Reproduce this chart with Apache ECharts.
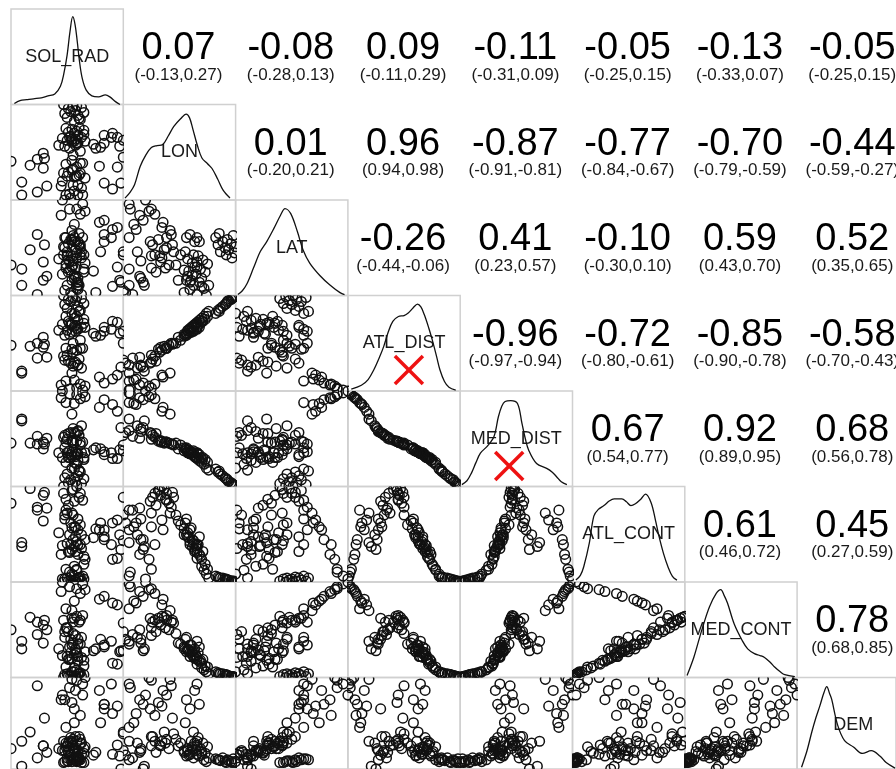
<!DOCTYPE html>
<html>
<head>
<meta charset="utf-8">
<script src="https://cdn.jsdelivr.net/npm/echarts@6/dist/echarts.min.js"></script>
<style>
  html, body { margin: 0; padding: 0; background: #ffffff; }
  #chart { width: 896px; height: 769px; }
</style>
</head>
<body>
<div id="chart"></div>
<script>
// Variable names, in panel order
const varNames = ['SOL_RAD', 'LON', 'LAT', 'ATL_DIST', 'MED_DIST', 'ATL_CONT', 'MED_CONT', 'DEM'];

// Observations (scaled units, one value per site)
const SOL_RAD = [55,60,49,58,47,63,52,56,50,61,54,57,46,59, 51,62,44,80,57,87,48,76,91,53,45,60,55,64, 52,58,47,24,61,54,32,11,11,49,56,94, 59,46,53,29,18,62,2,50,30,57,24,48,96,55, 54,29,60,51,47,42,71,58,53,64,49,56,45,61,91,52,58,63,55,50,57,63,53,48,59, 80,77,86,80,96,73,93,87, 55,53,57,51,56,60,54,58];
const LON      = [82,84,86,88,90,91,92,93,95,96,97,98,99,85, 9,8,17,20,27,14,8,37,36,43,22,30,12,25, 5,8,3,11,15,18,17,21,8,27,27,20, 28,30,33,35,38,40,42,31,45,36,44,39,46,26, 48,50,52,55,57,58,59,60,61,62,63,64,65,66,66,67,68,69,70,71,72,73,74,75,76, 68,56,66,60,63,55,57,70, 62,64,60,66,58,40,34,18];
const LAT      = [62,55,48,58,52,45,60,50,56,42,64,47,53,66, 90,95,84,79,90,70,62,77,72,69,99,85,75,88, 8,15,10,6,48,39,24,15,31,44,32,18, 55,45,60,38,50,62,35,28,55,42,65,32,48,58, 35,20,45,30,62,41,29,11,20,37,15,58,26,6,33,44,18,31,22,40,12,28,5,36,15, 58,48,62,65,45,8,20,14, 25,33,18,38,24,52,44,22];
const ATL_DIST = [80,83,85,87,89,90,92,93,94,95,96,97,98,82, 4,3,8,10,5,14,12,16,18,20,2,9,13,7, 30,28,33,35,25,27,36,22,20,38,31,26, 34,37,44,46,47,45,48,32,49,43,50,45,50,30, 50,56,53,59,58,63,60,64,61,66,63,68,69,66,71,68,73,70,75,72,77,74,80,77,82, 66,58,64,62,62,57,60,72, 67,69,65,70,62,45,41,28];
const MED_DIST = [18,15,13,11,9,8,7,5,4,3,2,1,0,16, 96,97,92,90,95,85,87,82,78,75,99,91,86,93, 56,58,53,52,63,60,50,68,70,49,55,61, 53,51,47,46,45,46,45,55,44,47,44,46,43,56, 45,39,43,37,40,35,38,34,36,35,35,31,30,35,29,33,27,30,25,30,23,28,19,25,17, 33,39,35,36,37,40,38,29, 33,31,34,30,36,46,48,57];
const ATL_CONT = [8,7,6,6,5,5,4,4,3,3,3,2,2,6, 12,8,30,45,15,62,75,55,65,72,5,40,58,25, 62,55,70,75,50,45,77,38,42,72,58,35, 88,92,95,90,97,85,82,80,93,99,78,86,88,84, 70,64,60,50,66,52,47,40,57,45,41,33,39,36,26,40,30,28,18,33,14,20,10,15,6, 48,62,40,55,44,56,50,25, 38,35,43,32,48,92,96,66];
const MED_CONT = [6,5,4,4,3,3,2,2,1,1,1,0,0,4, 95,98,90,85,93,78,72,82,76,70,100,88,80,92, 40,35,48,45,42,36,50,30,38,52,44,28, 58,60,62,55,63,65,50,48,60,64,58,52,57,62, 46,36,35,32,42,30,28,22,34,27,22,30,23,21,14,26,17,18,10,19,8,12,6,11,4, 32,40,38,34,28,30,27,15, 24,20,26,19,29,60,58,40];
const DEM      = [11,10,9,12,8,7,10,9,8,7,11,8,7,10, 88,92,75,70,96,60,45,85,68,97,80,58,50,99, 15,10,20,12,28,22,18,3,30,25,35,0, 35,30,72,25,40,80,22,18,55,30,90,28,38,65, 32,25,28,20,75,22,15,18,30,24,12,85,20,16,26,34,14,22,19,28,10,17,8,24,12, 70,50,92,65,40,18,14,16, 22,28,16,30,20,32,26,20];

// Kernel density curves for the diagonal: [position in range, scaled density]
const densSOL = [[0.03,0.01],[0.08,0.04],[0.14,0.05],[0.2,0.06],[0.27,0.07],[0.33,0.09],[0.39,0.11],[0.44,0.19],[0.47,0.32],[0.5,0.52],[0.525,0.76],[0.55,0.92],[0.57,0.84],[0.59,0.66],[0.61,0.45],[0.635,0.27],[0.67,0.15],[0.72,0.09],[0.78,0.08],[0.84,0.1],[0.88,0.08],[0.93,0.03],[0.97,0.0]];
const densLON = [[0.015,0.02],[0.06,0.08],[0.1,0.16],[0.15,0.35],[0.2,0.47],[0.25,0.55],[0.3,0.57],[0.35,0.58],[0.4,0.67],[0.45,0.77],[0.51,0.85],[0.56,0.9],[0.59,0.86],[0.62,0.74],[0.66,0.57],[0.7,0.44],[0.75,0.38],[0.79,0.33],[0.84,0.22],[0.89,0.1],[0.95,0.02]];
const densLAT = [[0.02,0.01],[0.06,0.05],[0.1,0.12],[0.16,0.29],[0.22,0.46],[0.28,0.57],[0.34,0.7],[0.4,0.84],[0.44,0.91],[0.49,0.86],[0.55,0.67],[0.6,0.48],[0.66,0.34],[0.75,0.21],[0.84,0.11],[0.93,0.03],[0.97,0.01]];
const densATL = [[0.03,0.02],[0.12,0.06],[0.18,0.12],[0.23,0.22],[0.28,0.35],[0.32,0.47],[0.36,0.62],[0.4,0.73],[0.45,0.78],[0.5,0.79],[0.54,0.82],[0.58,0.87],[0.62,0.91],[0.65,0.88],[0.68,0.8],[0.72,0.66],[0.75,0.54],[0.79,0.36],[0.82,0.22],[0.86,0.1],[0.9,0.04],[0.96,0.01]];
const densMED = [[0.015,0.02],[0.06,0.06],[0.1,0.14],[0.14,0.25],[0.18,0.35],[0.24,0.42],[0.3,0.52],[0.34,0.73],[0.37,0.84],[0.4,0.89],[0.45,0.9],[0.51,0.87],[0.55,0.66],[0.58,0.5],[0.61,0.38],[0.68,0.24],[0.77,0.19],[0.82,0.15],[0.86,0.1],[0.9,0.05],[0.95,0.02]];
const densACO = [[0.03,0.02],[0.07,0.07],[0.1,0.16],[0.15,0.41],[0.19,0.69],[0.23,0.76],[0.28,0.8],[0.33,0.85],[0.37,0.87],[0.44,0.87],[0.48,0.84],[0.52,0.8],[0.56,0.82],[0.61,0.87],[0.65,0.92],[0.7,0.83],[0.74,0.64],[0.77,0.48],[0.81,0.3],[0.85,0.16],[0.89,0.06],[0.93,0.02]];
const densMCO = [[0.02,0.02],[0.08,0.21],[0.12,0.37],[0.16,0.53],[0.22,0.74],[0.28,0.88],[0.32,0.92],[0.35,0.86],[0.38,0.78],[0.44,0.56],[0.51,0.39],[0.56,0.3],[0.62,0.25],[0.67,0.23],[0.71,0.21],[0.76,0.16],[0.8,0.11],[0.85,0.06],[0.89,0.03],[0.98,0.01]];
const densDEM = [[0.045,0.02],[0.1,0.2],[0.15,0.41],[0.19,0.56],[0.23,0.69],[0.27,0.83],[0.3,0.9],[0.33,0.82],[0.35,0.76],[0.41,0.48],[0.48,0.31],[0.57,0.24],[0.66,0.17],[0.75,0.2],[0.84,0.14],[0.9,0.07],[0.99,0.01]];

// Pearson r with 95% interval, upper triangle read row by row
const corrR  = [0.07,-0.08,0.09,-0.11,-0.05,-0.13,-0.05, 0.01,0.96,-0.87,-0.77,-0.70,-0.44, -0.26,0.41,-0.10,0.59,0.52, -0.96,-0.72,-0.85,-0.58, 0.67,0.92,0.68, 0.61,0.45, 0.78];
const corrLo = [-0.13,-0.28,-0.11,-0.31,-0.25,-0.33,-0.25, -0.20,0.94,-0.91,-0.84,-0.79,-0.59, -0.44,0.23,-0.30,0.43,0.35, -0.97,-0.80,-0.90,-0.70, 0.54,0.89,0.56, 0.46,0.27, 0.68];
const corrHi = [0.27,0.13,0.29,0.09,0.15,0.07,0.15, 0.21,0.98,-0.81,-0.67,-0.59,-0.27, -0.06,0.57,0.10,0.70,0.65, -0.94,-0.61,-0.78,-0.43, 0.77,0.95,0.78, 0.72,0.59, 0.85];

// Variables flagged with a red cross on the diagonal
const crossed = ['ATL_DIST', 'MED_DIST'];

// ---- layout of the panel matrix ----
const LEFT0 = 11, TOP0 = 9, CW = 112.3, CH = 95.5;
const FONT = '"Liberation Sans", Arial, Helvetica, sans-serif';

const vars = [SOL_RAD, LON, LAT, ATL_DIST, MED_DIST, ATL_CONT, MED_CONT, DEM];
const dens = [densSOL, densLON, densLAT, densATL, densMED, densACO, densMCO, densDEM];
const N = varNames.length;

const grids = [], xAxes = [], yAxes = [], series = [], graphics = [];

function circleItem(params, api) {
  const p = api.coord([api.value(0), api.value(1)]);
  return {
    type: 'circle',
    shape: { cx: p[0], cy: p[1], r: 4.8 },
    style: { fill: 'none', stroke: '#111111', lineWidth: 1.5 }
  };
}

let g = 0;
for (let i = 0; i < N; i++) {
  for (let j = 0; j <= i; j++) {
    grids.push({
      left: LEFT0 + j * CW, top: TOP0 + i * CH, width: CW, height: CH,
      show: true, borderColor: '#d0d0d0', borderWidth: 1.5, backgroundColor: 'transparent'
    });
    if (i === j) {
      xAxes.push({ gridIndex: g, type: 'value', min: 0, max: 1, show: false });
      yAxes.push({ gridIndex: g, type: 'value', min: 0, max: 1, show: false });
      series.push({
        type: 'line', xAxisIndex: g, yAxisIndex: g, data: dens[i],
        smooth: 0.35, symbol: 'none', silent: true,
        lineStyle: { color: '#111111', width: 1.3 }
      });
    } else {
      xAxes.push({ gridIndex: g, type: 'value', min: 'dataMin', max: 'dataMax', show: false });
      yAxes.push({ gridIndex: g, type: 'value', min: 'dataMin', max: 'dataMax', show: false });
      series.push({
        type: 'custom', coordinateSystem: 'cartesian2d', xAxisIndex: g, yAxisIndex: g,
        clip: true, silent: true,
        data: vars[j].map((v, n) => [v, vars[i][n]]),
        encode: { x: 0, y: 1 },
        renderItem: circleItem
      });
    }
    g++;
  }
}

// variable names on the diagonal
for (let i = 0; i < N; i++) {
  graphics.push({
    type: 'text', silent: true,
    x: LEFT0 + i * CW + CW / 2, y: TOP0 + i * CH + CH / 2,
    style: {
      text: varNames[i], fill: '#1a1a1a', fontSize: 18, fontFamily: FONT,
      textAlign: 'center', textVerticalAlign: 'middle', verticalAlign: 'middle'
    }
  });
}

// red crosses on flagged diagonal panels
const crossOffset = { ATL_DIST: [61, 74.5], MED_DIST: [49, 75] };
crossed.forEach(name => {
  const k = varNames.indexOf(name);
  const cx = LEFT0 + k * CW + crossOffset[name][0];
  const cy = TOP0 + k * CH + crossOffset[name][1];
  const h = 14;
  graphics.push({
    type: 'group', silent: true,
    children: [
      { type: 'line', shape: { x1: cx - h, y1: cy - h, x2: cx + h, y2: cy + h }, style: { stroke: '#ee1111', lineWidth: 3.5 } },
      { type: 'line', shape: { x1: cx - h, y1: cy + h, x2: cx + h, y2: cy - h }, style: { stroke: '#ee1111', lineWidth: 3.5 } }
    ]
  });
});

// correlation coefficients in the upper triangle
let k = 0;
for (let i = 0; i < N; i++) {
  for (let j = i + 1; j < N; j++) {
    const cx = LEFT0 + j * CW + CW / 2 - 1;
    const top = TOP0 + i * CH;
    graphics.push({
      type: 'text', silent: true, x: cx, y: top + 40,
      style: {
        text: corrR[k].toFixed(2), fill: '#000000', fontSize: 38, fontFamily: FONT,
        textAlign: 'center', textVerticalAlign: 'middle', verticalAlign: 'middle'
      }
    });
    graphics.push({
      type: 'text', silent: true, x: cx, y: top + 66,
      style: {
        text: '(' + corrLo[k].toFixed(2) + ',' + corrHi[k].toFixed(2) + ')',
        fill: '#1a1a1a', fontSize: 17, fontFamily: FONT,
        textAlign: 'center', textVerticalAlign: 'middle', verticalAlign: 'middle'
      }
    });
    k++;
  }
}

const chart = echarts.init(document.getElementById('chart'), null, { renderer: 'canvas' });
chart.setOption({
  animation: false,
  backgroundColor: '#ffffff',
  grid: grids,
  xAxis: xAxes,
  yAxis: yAxes,
  series: series,
  graphic: { elements: graphics }
});
</script>
</body>
</html>
